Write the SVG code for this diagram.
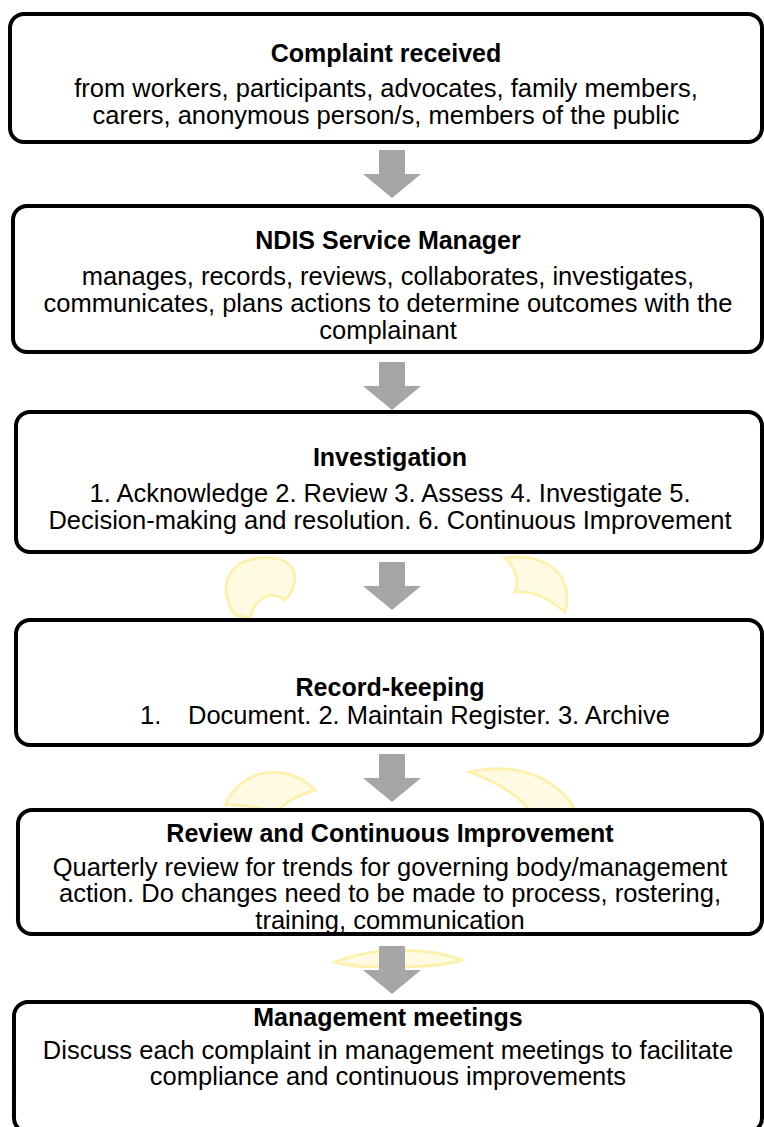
<svg xmlns="http://www.w3.org/2000/svg" width="764" height="1127" viewBox="0 0 764 1127">
<defs>
<style>
.box{fill:#fff;stroke:#000;stroke-width:4}
.t{font-family:"Liberation Sans",Arial,sans-serif;font-size:25px;font-weight:bold;text-anchor:middle;fill:#000}
.b{font-family:"Liberation Sans",Arial,sans-serif;font-size:25.5px;text-anchor:middle;fill:#000}
.s{text-anchor:start}
.arr{fill:#a6a6a6}
.wm{fill:#fffbe3;stroke:#fdf1b0;stroke-width:3}
</style>
<path id="arrow" d="M-13,0 H13 V24 H29 L0,48 L-29,24 H-13 Z"/>
</defs>
<rect width="764" height="1127" fill="#fff"/>
<g id="watermark">
<path class="wm" d="M235,615 C215,585 230,555 270,558 C300,560 300,585 285,600 C270,590 255,598 250,618 Z"/>
<path class="wm" d="M505,558 C545,552 575,575 565,612 C550,600 535,590 515,592 C520,580 515,568 505,558 Z"/>
<path class="wm" d="M225,805 C240,770 285,760 315,790 C300,795 285,800 275,815 C260,805 240,805 225,805 Z"/>
<path class="wm" d="M470,772 C530,758 585,790 585,850 C570,835 555,830 540,832 C535,805 505,785 470,772 Z"/>
<path class="wm" d="M335,962 C380,945 430,948 462,960 C440,968 360,970 335,962 Z"/>
</g>
<g id="connectors">
<use href="#arrow" class="arr" x="392" y="150"/>
<use href="#arrow" class="arr" x="392" y="362"/>
<use href="#arrow" class="arr" x="392" y="562"/>
<use href="#arrow" class="arr" x="392" y="754"/>
<use href="#arrow" class="arr" x="392" y="946"/>
</g>
<g id="n1">
<rect class="box" x="10" y="14" width="752" height="128" rx="14"/>
<text class="t" x="386" y="62">Complaint received</text>
<text class="b" x="386" y="97">from workers, participants, advocates, family members,</text>
<text class="b" x="386" y="124">carers, anonymous person/s, members of the public</text>
</g>
<g id="n2">
<rect class="box" x="13" y="206" width="749" height="146" rx="14"/>
<text class="t" x="388" y="249">NDIS Service Manager</text>
<text class="b" x="388" y="285">manages, records, reviews, collaborates, investigates,</text>
<text class="b" x="388" y="312">communicates, plans actions to determine outcomes with the</text>
<text class="b" x="388" y="339">complainant</text>
</g>
<g id="n3">
<rect class="box" x="16" y="412" width="746" height="140" rx="14"/>
<text class="t" x="390" y="466">Investigation</text>
<text class="b" x="390" y="502">1. Acknowledge 2. Review 3. Assess 4. Investigate 5.</text>
<text class="b" x="390" y="529">Decision-making and resolution. 6. Continuous Improvement</text>
</g>
<g id="n4">
<rect class="box" x="16" y="620" width="746" height="125" rx="14"/>
<text class="t" x="390" y="696">Record-keeping</text>
<text class="b s" x="140" y="724">1.</text>
<text class="b s" x="188" y="724">Document. 2. Maintain Register. 3. Archive</text>
</g>
<g id="n5">
<rect class="box" x="18" y="810" width="744" height="124" rx="14"/>
<text class="t" x="390" y="842">Review and Continuous Improvement</text>
<text class="b" x="390" y="876">Quarterly review for trends for governing body/management</text>
<text class="b" x="390" y="902">action. Do changes need to be made to process, rostering,</text>
<text class="b" x="390" y="929">training, communication</text>
<rect x="30" y="932" width="720" height="4" fill="#000"/>
</g>
<g id="n6">
<rect class="box" x="14" y="1002" width="748" height="130" rx="14"/>
<text class="t" x="388" y="1026">Management meetings</text>
<text class="b" x="388" y="1059">Discuss each complaint in management meetings to facilitate</text>
<text class="b" x="388" y="1085">compliance and continuous improvements</text>
</g>
</svg>
